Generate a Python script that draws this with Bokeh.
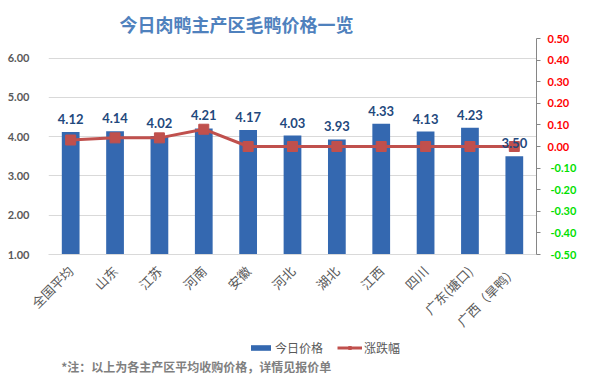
from bokeh.plotting import figure
from bokeh.models import (Range1d, FactorRange, LinearAxis, FixedTicker, NumeralTickFormatter,
                          Legend, LegendItem, ColumnDataSource, Label)
from bokeh.layouts import column
from bokeh.core.properties import value
from bokeh.embed import file_html
from bokeh.resources import INLINE
import math

categories = ["全国平均", "山东", "江苏", "河南", "安徽", "河北", "湖北", "江西", "四川", "广东(塘口)", "广西（旱鸭）"]
price = [4.12, 4.14, 4.02, 4.21, 4.17, 4.03, 3.93, 4.33, 4.13, 4.23, 3.50]
change = [0.03, 0.04, 0.04, 0.08, 0.00, 0.00, 0.00, 0.00, 0.00, 0.00, 0.00]
left_ticks = [1, 2, 3, 4, 5, 6]
pos_ticks = [0.0, 0.1, 0.2, 0.3, 0.4, 0.5]
neg_ticks = [-0.5, -0.4, -0.3, -0.2, -0.1]
title_text = "今日肉鸭主产区毛鸭价格一览"
note_text = "*注：以上为各主产区平均收购价格，详情见报价单"
legend_labels = ["今日价格", "涨跌幅"]

CJK = "Noto Sans CJK SC"
NUM = "Lato"
BAR_COLOR = "#3468b0"
LINE_COLOR = "#c0504d"

src = ColumnDataSource(dict(cat=categories, price=price, change=change,
                            lbl=["%.2f" % v for v in price]))

p = figure(width=579, height=340, output_backend="svg", toolbar_location=None,
           x_range=FactorRange(factors=categories, range_padding=0, factor_padding=0),
           y_range=Range1d(1, 6.5), y_axis_location=None,
           min_border_left=48, min_border_right=40, min_border_top=38, min_border_bottom=76)
p.outline_line_color = None
p.background_fill_color = "white"
p.extra_y_ranges = {"chg": Range1d(-0.5, 0.5)}

p.title.text = title_text
p.title.align = "left"
p.title.offset = 71
p.title.standoff = 4
p.title.text_font = CJK
p.title.text_font_style = "bold"
p.title.text_font_size = "18px"
p.title.text_color = "#4f81bd"

# left axis
yl = LinearAxis(ticker=FixedTicker(ticks=left_ticks), formatter=NumeralTickFormatter(format="0.00"))
yl.axis_line_color = None
yl.major_tick_line_color = None
yl.minor_tick_line_color = None
yl.major_label_text_font = NUM
yl.major_label_text_font_style = "bold"
yl.major_label_text_font_size = "11px"
yl.major_label_text_color = "#595959"
yl.major_label_standoff = 13
p.add_layout(yl, "left")

# right axis: positive labels red (negative ticks drawn as minor ticks)
yr = LinearAxis(y_range_name="chg", ticker=FixedTicker(ticks=pos_ticks, minor_ticks=neg_ticks),
                formatter=NumeralTickFormatter(format="0.00"))
yr.axis_line_color = "#868686"
yr.major_tick_line_color = "#868686"
yr.minor_tick_line_color = "#868686"
yr.major_tick_out = 4
yr.major_tick_in = 0
yr.minor_tick_out = 4
yr.minor_tick_in = 0
yr.major_label_standoff = 7
yr.major_label_text_font = NUM
yr.major_label_text_font_style = "bold"
yr.major_label_text_font_size = "11px"
yr.major_label_text_color = "#ff0000"
p.add_layout(yr, "right")

# second right axis: negative labels green, pulled back under the first
yg = LinearAxis(y_range_name="chg", ticker=FixedTicker(ticks=neg_ticks, minor_ticks=[]),
                formatter=NumeralTickFormatter(format="0.00"))
yg.axis_line_color = None
yg.major_tick_line_color = None
yg.minor_tick_line_color = None
yg.major_tick_out = 0
yg.major_tick_in = 0
yg.major_label_standoff = -22
yg.major_label_text_font = NUM
yg.major_label_text_font_style = "bold"
yg.major_label_text_font_size = "11px"
yg.major_label_text_color = "#00e000"
p.add_layout(yg, "right")

# x axis
xa = p.xaxis[0]
xa.axis_line_color = "#d9d9d9"
xa.major_tick_line_color = None
xa.minor_tick_line_color = None
xa.major_label_orientation = math.pi / 4
xa.major_label_text_font = CJK
xa.major_label_text_font_size = "13px"
xa.major_label_text_color = "#595959"
xa.major_label_standoff = 8

p.ygrid.ticker = FixedTicker(ticks=left_ticks)
p.ygrid.grid_line_color = "#d9d9d9"
p.xgrid.grid_line_color = None

p.vbar(x="cat", top="price", bottom=1, width=0.4, source=src,
       fill_color=BAR_COLOR, line_color=None)
p.line(x="cat", y="change", source=src, y_range_name="chg",
       line_color=LINE_COLOR, line_width=3)
p.scatter(x="cat", y="change", source=src, y_range_name="chg", marker="square",
          size=10, fill_color=LINE_COLOR, line_color=LINE_COLOR)
p.text(x="cat", y="price", text="lbl", source=src, y_offset=-8,
       text_align="center", text_baseline="bottom", text_font=value(NUM),
       text_font_style="bold", text_font_size="13px", text_color="#1f497d")

# footer strip: legend and note (legend keys use off-range proxy glyphs)
f = figure(width=579, height=34, output_backend="svg", toolbar_location=None,
           x_range=Range1d(0, 579), y_range=Range1d(0, 34),
           x_axis_location=None, y_axis_location=None,
           min_border_left=0, min_border_right=0, min_border_top=0, min_border_bottom=0)
f.outline_line_color = None
f.xgrid.visible = False
f.ygrid.visible = False
proxy = ColumnDataSource(dict(x=[-100], y=[-100]))
lb = f.vbar(x="x", top="y", width=1, source=proxy, fill_color=BAR_COLOR, line_color=None)
ll = f.line(x="x", y="y", source=proxy, line_color=LINE_COLOR, line_width=3)
ls = f.scatter(x="x", y="y", source=proxy, marker="square", size=8,
               fill_color=LINE_COLOR, line_color=LINE_COLOR)

legend = Legend(items=[LegendItem(label=legend_labels[0], renderers=[lb]),
                       LegendItem(label=legend_labels[1], renderers=[ll, ls])],
                orientation="horizontal", location=(200, 18))
legend.background_fill_alpha = 0
legend.border_line_color = None
legend.padding = 0
legend.margin = 0
legend.spacing = 14
legend.label_standoff = 2
legend.glyph_width = 25
legend.glyph_height = 7
legend.label_text_font = CJK
legend.label_text_font_size = "12px"
legend.label_text_color = "#595959"
f.add_layout(legend, "center")

f.add_layout(Label(x=15, y=8, text=note_text, text_align="left", text_baseline="middle",
                   text_font=CJK, text_font_style="bold", text_font_size="12px",
                   text_color="#7f7f7f"))

page = column(p, f, spacing=0)
open("out.html", "w").write(file_html(page, INLINE))
